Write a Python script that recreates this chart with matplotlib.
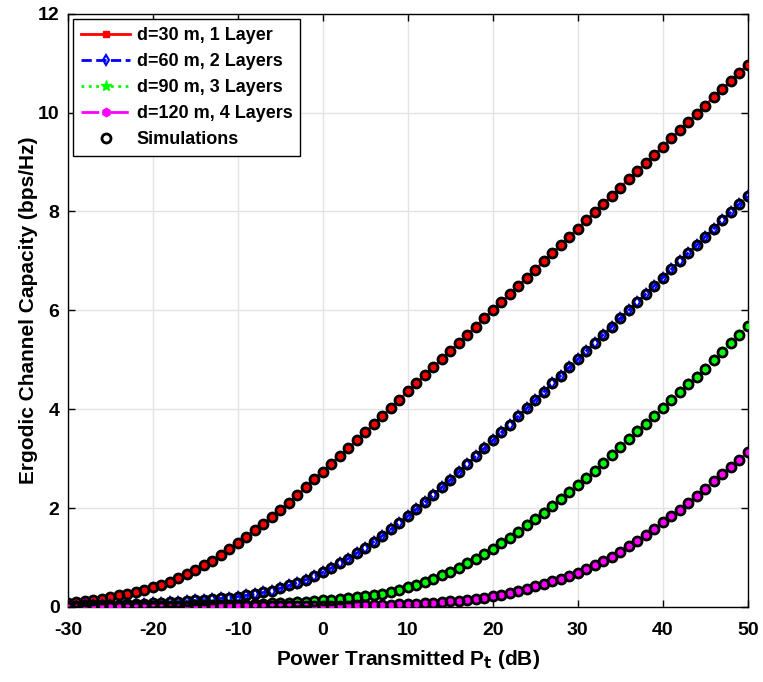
import numpy as np
import matplotlib
matplotlib.use('Agg')
import matplotlib.pyplot as plt

plt.rcParams['font.family'] = ['Liberation Sans', 'DejaVu Sans']
plt.rcParams['font.weight'] = 'bold'
plt.rcParams['axes.unicode_minus'] = False

# transmit power (dB), one marker per dB
power_db = list(range(-30, 51))

# d=30 m, 1 layer
cap_30m = [0.08, 0.10, 0.12, 0.14, 0.17, 0.21,
           0.24, 0.27, 0.31, 0.35, 0.40,
           0.45, 0.51, 0.58, 0.66, 0.74,
           0.84, 0.94, 1.05, 1.17, 1.29,
           1.42, 1.55, 1.68, 1.82, 1.96,
           2.11, 2.26, 2.42, 2.58, 2.74,
           2.90, 3.06, 3.21, 3.37, 3.53,
           3.70, 3.86, 4.03, 4.19, 4.36,
           4.52, 4.69, 4.85, 5.02, 5.18,
           5.34, 5.51, 5.67, 5.84, 6.00,
           6.16, 6.33, 6.49, 6.66, 6.82,
           6.99, 7.15, 7.32, 7.48, 7.65,
           7.82, 7.98, 8.15, 8.31, 8.48,
           8.65, 8.81, 8.98, 9.14, 9.31,
           9.48, 9.64, 9.81, 9.97, 10.14,
           10.31, 10.47, 10.64, 10.80, 10.97]

# d=60 m, 2 layers
cap_60m = [0.020, 0.025, 0.030, 0.035, 0.040, 0.045,
           0.050, 0.056, 0.063, 0.070, 0.078,
           0.087, 0.097, 0.108, 0.120, 0.133,
           0.145, 0.158, 0.172, 0.190, 0.210,
           0.235, 0.262, 0.294, 0.333, 0.380,
           0.435, 0.49, 0.55, 0.62, 0.70,
           0.79, 0.88, 0.98, 1.09, 1.20,
           1.32, 1.44, 1.57, 1.70, 1.84,
           1.98, 2.12, 2.27, 2.42, 2.57,
           2.73, 2.89, 3.05, 3.21, 3.37,
           3.53, 3.69, 3.86, 4.02, 4.19,
           4.35, 4.52, 4.68, 4.85, 5.01,
           5.18, 5.34, 5.51, 5.67, 5.84,
           6.00, 6.17, 6.33, 6.50, 6.66,
           6.83, 6.99, 7.16, 7.32, 7.49,
           7.65, 7.82, 7.98, 8.15, 8.31]

# d=90 m, 3 layers
cap_90m = [0.005, 0.006, 0.007, 0.008, 0.009, 0.010,
           0.011, 0.012, 0.014, 0.016, 0.018,
           0.020, 0.022, 0.025, 0.028, 0.032,
           0.030, 0.033, 0.036, 0.040, 0.045,
           0.050, 0.056, 0.063, 0.071, 0.080,
           0.090, 0.100, 0.110, 0.122, 0.135,
           0.150, 0.165, 0.182, 0.200, 0.220,
           0.243, 0.270, 0.300, 0.345, 0.395,
           0.45, 0.51, 0.57, 0.64, 0.71,
           0.79, 0.88, 0.97, 1.07, 1.18,
           1.29, 1.40, 1.52, 1.65, 1.78,
           1.91, 2.04, 2.18, 2.32, 2.46,
           2.61, 2.76, 2.92, 3.08, 3.24,
           3.40, 3.55, 3.71, 3.86, 4.02,
           4.18, 4.34, 4.50, 4.66, 4.82,
           4.99, 5.16, 5.33, 5.50, 5.68]

# d=120 m, 4 layers
cap_120m = [0.002, 0.002, 0.002, 0.003, 0.003, 0.003,
            0.003, 0.004, 0.004, 0.004, 0.005,
            0.005, 0.006, 0.006, 0.007, 0.008,
            0.008, 0.009, 0.010, 0.011, 0.012,
            0.013, 0.014, 0.015, 0.016, 0.017,
            0.018, 0.019, 0.020, 0.021, 0.022,
            0.024, 0.026, 0.029, 0.032, 0.035,
            0.039, 0.043, 0.048, 0.054, 0.060,
            0.067, 0.076, 0.086, 0.100, 0.115,
            0.130, 0.145, 0.165, 0.190, 0.220,
            0.25, 0.28, 0.32, 0.37, 0.42,
            0.47, 0.52, 0.57, 0.63, 0.69,
            0.77, 0.85, 0.93, 1.02, 1.12,
            1.23, 1.34, 1.46, 1.58, 1.71,
            1.84, 1.97, 2.10, 2.24, 2.39,
            2.54, 2.69, 2.84, 2.98, 3.13]

labels = ['d=30 m, 1 Layer', 'd=60 m, 2 Layers',
          'd=90 m, 3 Layers', 'd=120 m, 4 Layers']

fig = plt.figure(figsize=(7.63, 6.82), dpi=100)
ax = fig.add_axes([0.089, 0.110, 0.891, 0.870])

# analytical curves
ax.plot(power_db, cap_30m, '-s', color='#ff0000', lw=2, ms=4,
        mfc='#ff0000', label=labels[0], zorder=3)
ax.plot(power_db, cap_60m, '--d', color='#0000ff', lw=2, ms=5,
        mfc='none', mew=1.5, label=labels[1], zorder=3)
ax.plot(power_db, cap_90m, ':*', color='#00ff00', lw=2, ms=8,
        mfc='#00ff00', label=labels[2], zorder=3)
ax.plot(power_db, cap_120m, '-.h', color='#ff00ff', lw=2, ms=6,
        mfc='#ff00ff', label=labels[3], zorder=3)

# simulation points
for i, cap in enumerate([cap_30m, cap_60m, cap_90m, cap_120m]):
    ax.plot(power_db, cap, 'o', color='black', mfc='none', ms=6.5, mew=2,
            label='Simulations' if i == 0 else None, zorder=4)

ax.set_xlim(-30, 50)
ax.set_ylim(0, 12)
ax.set_xticks(range(-30, 51, 10))
ax.set_yticks(range(0, 13, 2))
ax.grid(True, color='#e3e3e3', lw=1, zorder=0)
ax.set_axisbelow(True)
ax.tick_params(direction='in', top=True, right=True, labelsize=14,
               length=5, width=1)
ax.tick_params(axis='x', pad=11)
ax.tick_params(axis='y', pad=6)
for lbl in ax.get_xticklabels() + ax.get_yticklabels():
    lbl.set_fontweight('bold')
for sp in ax.spines.values():
    sp.set_linewidth(1)

ax.set_xlabel('Power Transmitted P$_\\mathbf{t}$ (dB)', fontsize=15,
              fontweight='bold', labelpad=6)
ax.set_ylabel('Ergodic Channel Capacity (bps/Hz)', fontsize=15,
              fontweight='bold', labelpad=0)

leg = ax.legend(loc='upper left', fontsize=13, handlelength=2.7,
                borderaxespad=0.3, labelspacing=0.5, handletextpad=0.35,
                fancybox=False, framealpha=1, edgecolor='black',
                borderpad=0.45)
leg.get_frame().set_linewidth(1)

fig.savefig('out.png', dpi=100)
